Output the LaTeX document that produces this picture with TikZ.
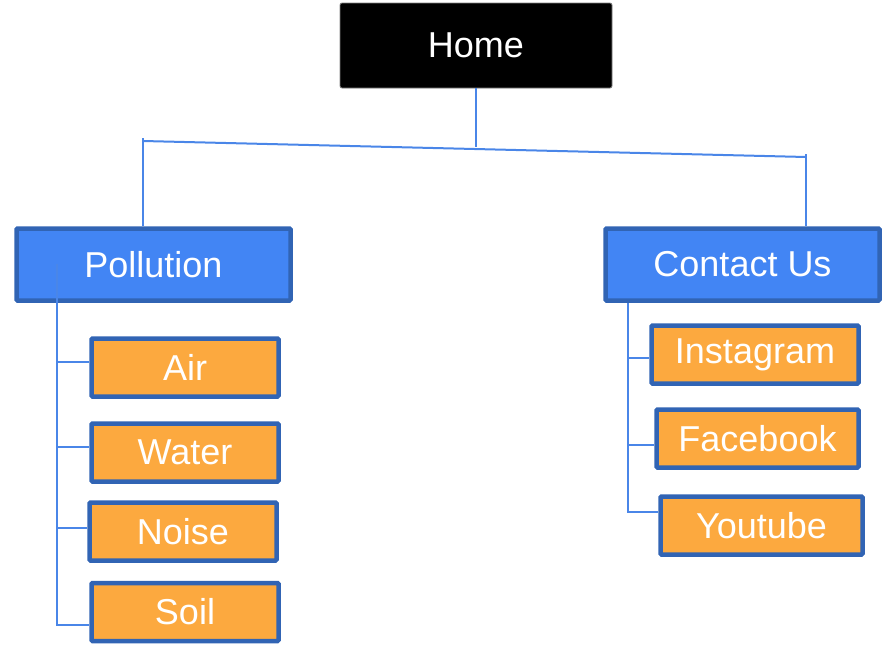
\documentclass[tikz,border=0pt]{standalone}
\usepackage{fontspec}
\setmainfont{Liberation Sans}
\definecolor{topblue}{HTML}{4285F4}
\definecolor{rimblue}{HTML}{3164B4}
\definecolor{pageorange}{HTML}{FCA93F}
\definecolor{wireblue}{HTML}{4A86E8}
\begin{document}
\begin{tikzpicture}[x=1pt,y=-1pt]
      \tikzstyle{every node}=[rectangle,font=\fontsize{36}{42}\selectfont,text=white,inner sep=0pt]
      \tikzstyle{home}=[fill=black,draw=gray,line width=0.8pt,rounded corners=2pt,minimum width=272pt,minimum height=85pt]
      \tikzstyle{section}=[fill=topblue,draw=rimblue,line width=4.5pt,rounded corners=1pt,minimum width=274pt,minimum height=72pt]
      \tikzstyle{page}=[fill=pageorange,draw=rimblue,line width=4.5pt,rounded corners=1pt,minimum height=58pt]
      \tikzstyle{wire}=[draw=wireblue,line width=2pt]
      \useasboundingbox (0,0) rectangle (889,645);

      \node[home] (home) at (476,45.5) {Home};
      \node[section] (poll) at (153.5,264.5) {Pollution};
      \node[section] (cont) at (742.5,264.5) {Contact Us};

      \node[page,minimum width=187pt] (air) at (185,367.5) {Air};
      \node[page,minimum width=187pt] (water) at (185,452.5) {Water};
      \node[page,minimum width=187pt] (noise) at (183,531.5) {Noise};
      \node[page,minimum width=187pt] (soil) at (185,612) {Soil};

      \node[page,minimum width=207pt] (insta) at (755,354.5) {Instagram};
      \node[page,minimum width=202pt] (face) at (757.5,438.5) {Facebook};
      \node[page,minimum width=202pt] (tube) at (761.5,525.5) {Youtube};

      \coordinate (busl) at (143,141);
      \coordinate (busr) at (806,157);
      \coordinate (busm) at (476,147);
      \coordinate (pollstem) at (57,264);
      \coordinate (contstem) at (628,303);

      \coordinate (airin) at ([yshift=5.5pt]air.west);
      \coordinate (waterin) at ([yshift=5.5pt]water.west);
      \coordinate (noisein) at ([yshift=3.5pt]noise.west);
      \coordinate (soilin) at ([yshift=-13pt]soil.west);
      \coordinate (instain) at ([yshift=-3.5pt]insta.west);
      \coordinate (facein) at ([yshift=-6.5pt]face.west);
      \coordinate (tubein) at ([yshift=13.5pt]tube.west);

      \draw[wire] (home.south) -- (busm);
      \draw[wire] (busl) -- (busr);
      \draw[wire] (busl) -- (busl |- poll.north);
      \draw[wire] (busr) -- (busr |- cont.north);
      \draw[wire] (143,138) -- (busl);
      \draw[wire] (806,154) -- (busr);

      % pollution branch
      \draw[wire] (pollstem) -- (pollstem |- soilin) -- (soilin);
      \draw[wire] (pollstem |- airin) -- (airin);
      \draw[wire] (pollstem |- waterin) -- (waterin);
      \draw[wire] (pollstem |- noisein) -- (noisein);

      % contact branch
      \draw[wire] (contstem) -- (contstem |- tubein) -- (tubein);
      \draw[wire] (contstem |- instain) -- (instain);
      \draw[wire] (contstem |- facein) -- (facein);
    \end{tikzpicture}
\end{document}
